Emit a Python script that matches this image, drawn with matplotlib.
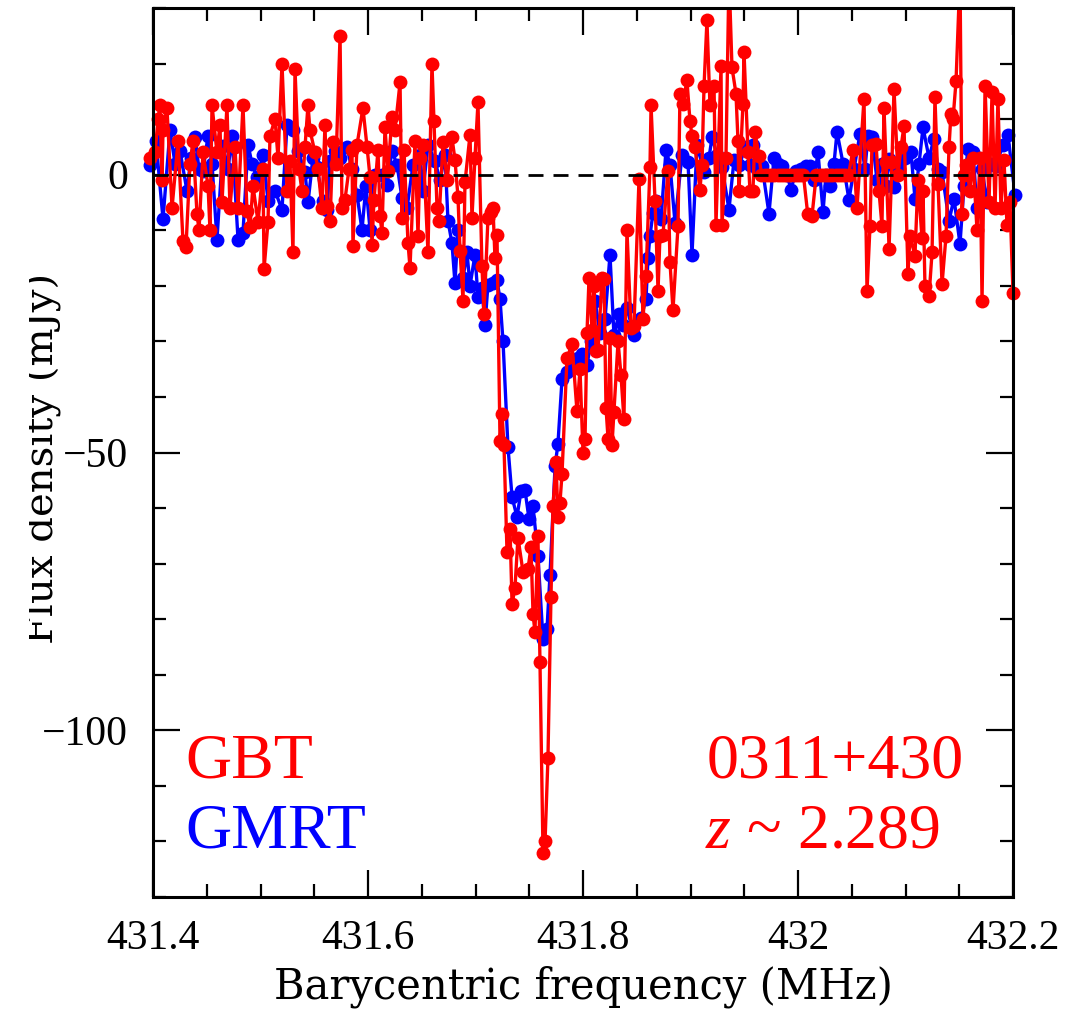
import matplotlib
matplotlib.use("Agg")
import matplotlib.pyplot as plt
from matplotlib.ticker import MultipleLocator, FuncFormatter
from matplotlib.transforms import Bbox, TransformedBbox

plt.rcParams["mathtext.fontset"] = "custom"
plt.rcParams["mathtext.it"] = "Liberation Serif:italic"
plt.rcParams["mathtext.rm"] = "Liberation Serif"

# ---------------- data ----------------
red_freq = [431.3972, 431.4019, 431.4047, 431.4065, 431.4084, 431.4093, 431.4130, 431.4177, 431.4233, 431.4279,
            431.4307, 431.4344, 431.4372, 431.4409, 431.4428, 431.4465, 431.4512, 431.4530, 431.4549, 431.4595,
            431.4623, 431.4642, 431.4688, 431.4716, 431.4763, 431.4791, 431.4837, 431.4874, 431.4902, 431.4930,
            431.4977, 431.5023, 431.5033, 431.5070, 431.5088, 431.5135, 431.5163, 431.5200, 431.5247, 431.5274,
            431.5302, 431.5321, 431.5358, 431.5386, 431.5414, 431.5442, 431.5460, 431.5507, 431.5535, 431.5572,
            431.5600, 431.5619, 431.5647, 431.5674, 431.5702, 431.5740, 431.5758, 431.5786, 431.5823, 431.5851,
            431.5860, 431.5898, 431.5953, 431.5991, 431.6019, 431.6037, 431.6056, 431.6093, 431.6112, 431.6130,
            431.6158, 431.6186, 431.6223, 431.6251, 431.6298, 431.6316, 431.6335, 431.6372, 431.6391, 431.6437,
            431.6465, 431.6484, 431.6512, 431.6558, 431.6595, 431.6614, 431.6642, 431.6660, 431.6698, 431.6735,
            431.6781, 431.6809, 431.6837, 431.6856, 431.6884, 431.6902, 431.6949, 431.6967, 431.6995, 431.7023,
            431.7060, 431.7079, 431.7116, 431.7144, 431.7163, 431.7181, 431.7200, 431.7228, 431.7247, 431.7265,
            431.7293, 431.7321, 431.7340, 431.7367, 431.7395, 431.7442, 431.7488, 431.7516, 431.7535, 431.7553,
            431.7581, 431.7600, 431.7628, 431.7647, 431.7674, 431.7702, 431.7721, 431.7749, 431.7767, 431.7786,
            431.7805, 431.7851, 431.7898, 431.7944, 431.7972, 431.8000, 431.8019, 431.8037, 431.8056, 431.8084,
            431.8102, 431.8121, 431.8140, 431.8177, 431.8195, 431.8214, 431.8233, 431.8251, 431.8270, 431.8288,
            431.8326, 431.8353, 431.8381, 431.8409, 431.8447, 431.8474, 431.8521, 431.8558, 431.8586, 431.8623,
            431.8633, 431.8670, 431.8698, 431.8716, 431.8744, 431.8791, 431.8809, 431.8837, 431.8884, 431.8902,
            431.8930, 431.8967, 431.8995, 431.9014, 431.9042, 431.9088, 431.9107, 431.9126, 431.9153, 431.9181,
            431.9219, 431.9237, 431.9284, 431.9293, 431.9330, 431.9358, 431.9386, 431.9423, 431.9442, 431.9451,
            431.9488, 431.9498, 431.9535, 431.9553, 431.9581, 431.9600, 431.9637,
            431.966, 431.969, 431.972, 431.975, 431.978, 431.981, 431.984, 431.987, 431.990, 431.993,
            431.996, 431.999, 432.002, 432.005, 432.009, 432.013, 432.017, 432.020, 432.023, 432.026,
            432.029, 432.032, 432.035, 432.038, 432.041, 432.044, 432.047,
            432.0512, 432.0549, 432.0614, 432.0642, 432.0670, 432.0688, 432.0726, 432.0753, 432.0781, 432.0800,
            432.0819, 432.0847, 432.0874, 432.0893, 432.0930, 432.0958, 432.0986, 432.1023, 432.1042, 432.1088,
            432.1116, 432.1153, 432.1163, 432.1181, 432.1219, 432.1247, 432.1274, 432.1302, 432.1340, 432.1377,
            432.1405, 432.1423, 432.1442, 432.1470, 432.1507, 432.1526, 432.1544, 432.1563, 432.1600, 432.1628,
            432.1665, 432.1693, 432.1712, 432.1740, 432.1777, 432.1805, 432.1833, 432.1860, 432.1888, 432.1916,
            432.1944, 432.1972, 432.2000]

red_flux = [3, 4, 10, 12.5, -1, 8, 12, -6, 6, -12,
            -13, 2, 6, -7, -10, 4, -2, -10, 12.5, 4,
            9, -5, 12.5, -6, 5, -6, 12.5, -6.5, -9.5, -2,
            -8.5, 1, -17, -8.5, 7, 10, 3, 20, -3, 2.5,
            -14, 19, 1, -3, 5, 12.6, 8, 4, 1, -6,
            9, -5.6, -8.3, 5.8, 2, 25, -6, -4.5, 1, 4.5,
            -12.8, 5.4, 12, 5, -0.5, -12.6, -4.5, 4.5, -7.4, -10.5,
            8.5, 0.7, 10.3, 8, 16.6, -7.8, 4.5, -12.3, -16.8, 6,
            -11, 3, 5.4, -14, 20, 9.7, -6, -8.3, 5.8, -1,
            6.7, 2.7, -4, -13.7, -22.7, -1.4, 7.2, -7.8, 3, 13,
            -16.4, -25, -7.8, -6.7, -6, -15, -10.8, -48, -43, -48.7,
            -67.9, -63.7, -77.3, -74.4, -65.3, -71.5, -71, -67, -79, -82.3,
            -65, -87.7, -122, -120, -105, -76, -59.6, -51.7, -61.6, -59,
            -53.8, -33, -30.5, -42.6, -35, -50, -47.5, -28.5, -18.6, -28,
            -20, -31.8, -31.6, -18.6, -18.8, -42, -47.5, -29.4, -48.6, -42.7,
            -30, -36, -44, -10, -27.6, -27.3, -0.7, -26, -18.2, 1.4,
            12.5, -4.7, -21, -11, -10.8, 0.7, -15.7, -24.4, -9.2, 14.6,
            12.8, 17, 9.7, 7, 5, -2.7, 1.8, 16, 27.8, 12.5,
            16, -9, 19.5, -9, 3, 36, 19.3, 14.6, 6, -3,
            12.8, 22, 4, -2.9, -3, 7.6, 3.4,
            0, 0, 0, 0, 0, 0, 0, 0, 0, 0,
            0, 0, 0, 0, -7, -7.5, 0, 0, 0, 0,
            0, 0, 0, 0, 0, 0, 0,
            4.5, -6, 13.7, -21, -9.2, 5.4, 5.6, -2.9, -9.2, 12,
            2.3, -13.3, 2.3, 15.5, 0, 4.9, 8.8, -17.9, -11, -14.6,
            -0.9, -11.4, -2.9, -20, -21.8, -14, 13.9, -1.6, -19.7, -11,
            5, 11, 10, 16.8, 36, -7, 0, 1.8, -2.9, 3,
            -10, 3, -22.7, 16, -5, 14.8, -6, 13.7, -6, 2.7,
            -9, -5, -21.3]

blue_freq = [431.3972, 431.4028, 431.4093, 431.4158, 431.4205, 431.4251, 431.4316, 431.4353, 431.4391, 431.4428,
             431.4465, 431.4512, 431.4549, 431.4595, 431.4651, 431.4698, 431.4735, 431.4791, 431.4837, 431.4884,
             431.4921, 431.4967, 431.5023, 431.5070, 431.5135, 431.5200, 431.5247, 431.5302, 431.5349, 431.5414,
             431.5442, 431.5488, 431.5526, 431.5581, 431.5619, 431.5647, 431.5693, 431.5740, 431.5805, 431.5851,
             431.5898, 431.5944, 431.5981, 431.6019, 431.6065, 431.6130, 431.6177, 431.6223, 431.6270, 431.6316,
             431.6363, 431.6419, 431.6484, 431.6512, 431.6558, 431.6623, 431.6670, 431.6716, 431.6744, 431.6781,
             431.6809, 431.6837, 431.6884, 431.6921, 431.6949, 431.6995, 431.7023, 431.7060, 431.7088, 431.7116,
             431.7163, 431.7200, 431.7228, 431.7256, 431.7302, 431.7340, 431.7386, 431.7423, 431.7460, 431.7498,
             431.7535, 431.7581, 431.7628, 431.7665, 431.7693, 431.7740, 431.7767, 431.7805, 431.7851, 431.7907,
             431.7953, 431.7991, 431.8037, 431.8074, 431.8112, 431.8158, 431.8205, 431.8251, 431.8288, 431.8335,
             431.8372, 431.8409, 431.8474, 431.8540, 431.8586, 431.8605, 431.8623, 431.8651, 431.8679, 431.8726,
             431.8772, 431.8809, 431.8856, 431.8921, 431.8977, 431.9014, 431.9060, 431.9126, 431.9172, 431.9200,
             431.9247, 431.9293, 431.9358, 431.9405, 431.9451, 431.9516, 431.9553, 431.9581, 431.9619, 431.9665,
             431.9730, 431.9777, 431.9814, 431.9851, 431.9898, 431.9935, 431.9981, 432.0028, 432.0074, 432.0112,
             432.0149, 432.0186, 432.0233, 432.0260, 432.0298, 432.0335, 432.0363, 432.0419, 432.0474, 432.0521,
             432.0577, 432.0623, 432.0651, 432.0688, 432.0735, 432.0781, 432.0819, 432.0847, 432.0893, 432.0940,
             432.0995, 432.1051, 432.1088, 432.1126, 432.1163, 432.1219, 432.1265, 432.1302, 432.1340, 432.1405,
             432.1451, 432.1507, 432.1544, 432.1581, 432.1628, 432.1665, 432.1712, 432.1758, 432.1795, 432.1842,
             432.1907, 432.1953, 432.2019]

blue_flux = [1.8, 6, -8, 8, 2, 4.3, -2.9, 3, 6.7, 1,
             0.7, 7, 2, -11.7, 5.2, 1, 7, -11.7, -10.5, 5.4,
             2, -0.5, 3.6, -4.7, -2.9, -6.3, 9, 8, 4.3, 0.4,
             -5, 3, 1.3, -4.7, -6.3, 2.5, 4.3, 3, 4.9, 1,
             -3.6, -10, -2, -9.9, 0, 0, -1.8, 4.3, 1.8, -4.2,
             -6, 1.8, 3.6, -2.9, 5.4, 2.5, -1, 3.6, -8.3, -12.3,
             -19.5, -10, -18.6, -14, -20, -14.4, -22, -20.4, -27, -19.8,
             -19.5, -19, -22.4, -30, -49, -58, -61.6, -57, -56.7, -62,
             -59.6, -68.6, -83.6, -81.8, -72, -52.5, -48.4, -36.8, -35.6, -34.3,
             -33, -32.3, -34.3, -30, -22.7, -28.5, -26, -14.4, -28.9, -25,
             -27, -24, -28.9, -25.8, -22.4, -15, -11, -6.9, -4.7, -8,
             4.5, 1.8, -8.7, 3.6, 2.3, -14.4, 5.4, 0.5, 3, 6.7,
             3.6, 1.4, -6.3, 2.7, 1.8, 4.9, 1.8, 5.4, 1, 1.6,
             -7, 3, 2, 1.6, 0, -2.7, 0.7, 1, 1.6, 1.6,
             -1, 4, -6.7, 0, -2, 2, 7.7, 2, -4.5, 1,
             7.4, 1, 7, 6.8, -1, 2, -2, 2.9, -2.3, 1,
             3, 4, -4.3, 2, 8.5, 3, 6.5, 1, 0.4, -8.3,
             -4.3, -12.5, -2, 4.7, 4, -6, 1, -5, 2, 1.6,
             5.4, 7.2, -3.6]

x_ticks = [431.4, 431.6, 431.8, 432.0, 432.2]
y_ticks = [-100, -50, 0]
x_label = "Barycentric frequency (MHz)"
y_label = "Flux density (mJy)"

if len(red_freq) != len(red_flux) or len(blue_freq) != len(blue_flux):
    raise SystemExit(f"length mismatch red {len(red_freq)} {len(red_flux)} blue {len(blue_freq)} {len(blue_flux)}")

# ---------------- figure ----------------
W, H = 1069, 1010
fig = plt.figure(figsize=(W / 100, H / 100), dpi=100)
ax = fig.add_axes([153 / W, 1 - 897 / H, 860 / W, 889 / H])

RED = "#ff0000"
BLUE = "#0000ff"
lw = 2.4
ms = 10.0

# GMRT (blue)
ax.plot(blue_freq, blue_flux, "-", color=BLUE, lw=lw, zorder=2)
ax.plot(blue_freq, blue_flux, "o", color=BLUE, ms=ms, mew=0, zorder=2.1, clip_on=False)
# GBT (red)
ax.plot(red_freq, red_flux, "-", color=RED, lw=lw, zorder=3)
ax.plot(red_freq, red_flux, "o", color=RED, ms=ms, mew=0, zorder=3.1, clip_on=False)

ax.axhline(0, color="black", lw=2.0, linestyle=(0, (5.4, 3.6)), zorder=5)

ax.set_xlim(431.4, 432.2)
ax.set_ylim(-130, 30)

ax.xaxis.set_minor_locator(MultipleLocator(0.05))
ax.yaxis.set_minor_locator(MultipleLocator(10))
ax.set_xticks(x_ticks)
ax.set_yticks(y_ticks)
ax.xaxis.set_major_formatter(FuncFormatter(lambda v, p: f"{v:g}"))
ax.yaxis.set_major_formatter(FuncFormatter(lambda v, p: f"{v:g}".replace("-", "\u2212")))

for s in ax.spines.values():
    s.set_linewidth(2.2)
    s.set_zorder(6)

ax.tick_params(which="both", direction="in", top=True, right=True, width=1.6, color="black")
ax.tick_params(which="major", length=19.4)
ax.tick_params(which="minor", length=9.4)
ax.tick_params(axis="x", which="major", pad=16)
ax.tick_params(axis="y", which="major", pad=18)
for lab in ax.get_xticklabels() + ax.get_yticklabels():
    lab.set_fontfamily(["Liberation Serif", "DejaVu Serif"])
    lab.set_fontsize(30)

# axis labels
xl = ax.set_xlabel(x_label, fontfamily="DejaVu Serif", fontsize=30, va="baseline")
ax.xaxis.set_label_coords(0.5, (897 - 998) / 889)

yl = ax.set_ylabel(y_label, fontfamily="DejaVu Serif", fontsize=29,
                   rotation=90, rotation_mode="anchor", ha="center", va="baseline")
ax.yaxis.set_label_coords((54 - 153) / 860, (897 - 458) / 889)
yl.set_clip_on(True)
yl.set_clip_box(TransformedBbox(Bbox([[29 / W, 0], [1, 1]]), fig.transFigure))

# annotations
txt_kw = dict(transform=ax.transAxes, fontfamily="Liberation Serif", fontsize=46,
              ha="left", va="baseline", zorder=7)
ax.text((185 - 153) / 860, (897 - 777) / 889, "GBT", color=RED, **txt_kw)
ax.text((185 - 153) / 860, (897 - 848) / 889, "GMRT", color=BLUE, **txt_kw)
ax.text((707 - 153) / 860, (897 - 778) / 889, "0311+430", color=RED, **txt_kw)
ax.text((705 - 153) / 860, (897 - 848) / 889, "$z$ ~ 2.289", color=RED, **txt_kw)

fig.savefig("out.png", dpi=100)
